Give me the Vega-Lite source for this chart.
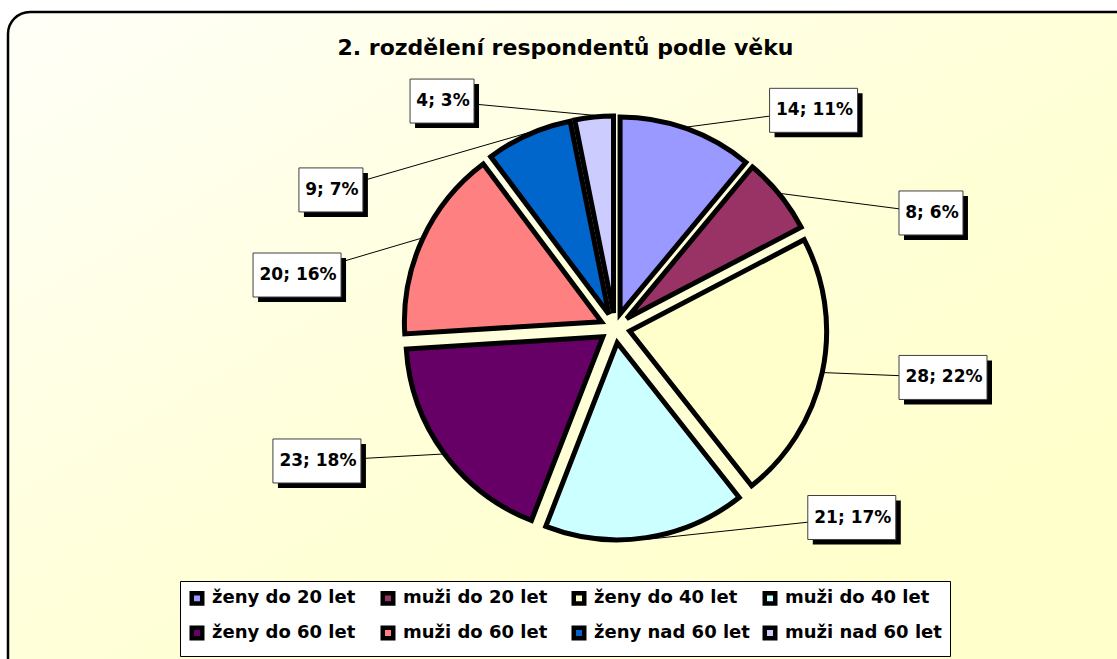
{
  "$schema": "https://vega.github.io/schema/vega-lite/v6.json",
  "width": 1135,
  "height": 670,
  "autosize": {"type": "none"},
  "padding": {"left": 8, "top": 12, "right": -26, "bottom": -23},
  "background": "white",
  "title": {
    "text": "2. rozdělení respondentů podle věku",
    "orient": "top",
    "anchor": "middle",
    "offset": -65,
    "dx": -10,
    "baseline": "alphabetic",
    "font": "DejaVu Sans",
    "fontWeight": "bold",
    "fontSize": 22,
    "color": "black"
  },
  "config": {
    "view": {
      "fill": {"gradient": "linear", "x1": 0, "y1": 0, "x2": 1, "y2": 1,
        "stops": [{"offset": 0, "color": "#fffff8"}, {"offset": 0.5, "color": "#ffffd8"}, {"offset": 0.8, "color": "#ffffcc"}]},
      "stroke": "black",
      "strokeWidth": 2.5,
      "cornerRadius": 22
    },
    "legend": {"rowPadding": 5}
  },
  "data": {
    "values": [
      {"group": "ženy do 20 let", "value": 14, "order": 1, "lx": 1.008, "ly": 1.105},
      {"group": "muži do 20 let", "value": 8, "order": 2, "lx": 1.604, "ly": 0.584},
      {"group": "ženy do 40 let", "value": 28, "order": 3, "lx": 1.665, "ly": -0.251},
      {"group": "muži do 40 let", "value": 21, "order": 4, "lx": 1.202, "ly": -0.962},
      {"group": "ženy do 60 let", "value": 23, "order": 5, "lx": -1.513, "ly": -0.675},
      {"group": "muži do 60 let", "value": 20, "order": 6, "lx": -1.614, "ly": 0.269},
      {"group": "ženy nad 60 let", "value": 9, "order": 7, "lx": -1.442, "ly": 0.701},
      {"group": "muži nad 60 let", "value": 4, "order": 8, "lx": -0.878, "ly": 1.152}
    ]
  },
  "transform": [
    {"window": [{"op": "sum", "field": "value", "as": "cum"}], "sort": [{"field": "order"}], "frame": [null, 0]},
    {"joinaggregate": [{"op": "sum", "field": "value", "as": "total"}]},
    {"calculate": "datum.cum - datum.value", "as": "start"},
    {"calculate": "2 * PI * (datum.cum - datum.value / 2) / datum.total", "as": "ang"},
    {"calculate": "0.076 * sin(datum.ang)", "as": "ex"},
    {"calculate": "0.076 * cos(datum.ang)", "as": "ey"},
    {"calculate": "1.085 * sin(datum.ang)", "as": "sx"},
    {"calculate": "1.085 * cos(datum.ang)", "as": "sy"},
    {"calculate": "datum.value + '; ' + round(datum.value / datum.total * 100) + '%'", "as": "label"}
  ],
  "layer": [
    {
      "mark": {"type": "arc", "radius": 197, "stroke": "black", "strokeWidth": 5, "strokeJoin": "miter"},
      "encoding": {
        "x": {"field": "ex", "type": "quantitative", "scale": {"domain": [-3.0812, 2.6802], "nice": false, "zero": false}, "axis": null},
        "y": {"field": "ey", "type": "quantitative", "scale": {"domain": [-1.797, 1.6041], "nice": false, "zero": false}, "axis": null},
        "theta": {"field": "cum", "type": "quantitative", "stack": null, "scale": {"zero": true}},
        "theta2": {"field": "start"},
        "color": {
          "field": "group",
          "type": "nominal",
          "scale": {
            "domain": ["ženy do 20 let", "muži do 20 let", "ženy do 40 let", "muži do 40 let", "ženy do 60 let", "muži do 60 let", "ženy nad 60 let", "muži nad 60 let"],
            "range": ["#9999ff", "#993366", "#ffffcc", "#ccffff", "#660066", "#ff8080", "#0066cc", "#ccccff"]
          },
          "legend": {
            "title": null,
            "orient": "none",
            "legendX": 172,
            "legendY": 569,
            "direction": "horizontal",
            "columns": 4,
            "gridAlign": "all",
            "symbolType": "square",
            "symbolSize": 110,
            "symbolStrokeColor": "black",
            "symbolStrokeWidth": 4.5,
            "symbolOpacity": 1,
            "labelFont": "DejaVu Sans",
            "labelFontWeight": "bold",
            "labelFontSize": 18,
            "labelColor": "black",
            "labelLimit": 400,
            "labelOffset": 6,
            "fillColor": "white",
            "strokeColor": "black",
            "padding": 8,
            "columnPadding": 4
          }
        }
      }
    },
    {
      "mark": {"type": "rule", "color": "black", "strokeWidth": 1},
      "encoding": {
        "x": {"field": "sx", "type": "quantitative", "scale": {"domain": [-3.0812, 2.6802], "nice": false, "zero": false}, "axis": null},
        "y": {"field": "sy", "type": "quantitative", "scale": {"domain": [-1.797, 1.6041], "nice": false, "zero": false}, "axis": null},
        "x2": {"field": "lx"},
        "y2": {"field": "ly"}
      }
    },
    {
      "mark": {"type": "point", "filled": true, "fill": "black", "opacity": 1, "size": 7744, "xOffset": 5, "yOffset": 5, "strokeWidth": 0},
      "encoding": {
        "x": {"field": "lx", "type": "quantitative", "scale": {"domain": [-3.0812, 2.6802], "nice": false, "zero": false}, "axis": null},
        "y": {"field": "ly", "type": "quantitative", "scale": {"domain": [-1.797, 1.6041], "nice": false, "zero": false}, "axis": null},
        "shape": {"condition": {"test": "datum.value < 10", "value": "M-0.727,-0.5H0.727V0.5H-0.727Z"}, "value": "M-1,-0.5H1V0.5H-1Z"}
      }
    },
    {
      "mark": {"type": "point", "filled": true, "fill": "white", "opacity": 1, "size": 7744, "stroke": "#404040", "strokeWidth": 1},
      "encoding": {
        "x": {"field": "lx", "type": "quantitative", "scale": {"domain": [-3.0812, 2.6802], "nice": false, "zero": false}, "axis": null},
        "y": {"field": "ly", "type": "quantitative", "scale": {"domain": [-1.797, 1.6041], "nice": false, "zero": false}, "axis": null},
        "shape": {"condition": {"test": "datum.value < 10", "value": "M-0.727,-0.5H0.727V0.5H-0.727Z"}, "value": "M-1,-0.5H1V0.5H-1Z"}
      }
    },
    {
      "mark": {"type": "text", "font": "DejaVu Sans", "fontWeight": "bold", "fontSize": 17, "color": "black", "align": "center", "baseline": "middle", "dx": 1, "dy": 0},
      "encoding": {
        "x": {"field": "lx", "type": "quantitative", "scale": {"domain": [-3.0812, 2.6802], "nice": false, "zero": false}, "axis": null},
        "y": {"field": "ly", "type": "quantitative", "scale": {"domain": [-1.797, 1.6041], "nice": false, "zero": false}, "axis": null},
        "text": {"field": "label"}
      }
    }
  ]
}
